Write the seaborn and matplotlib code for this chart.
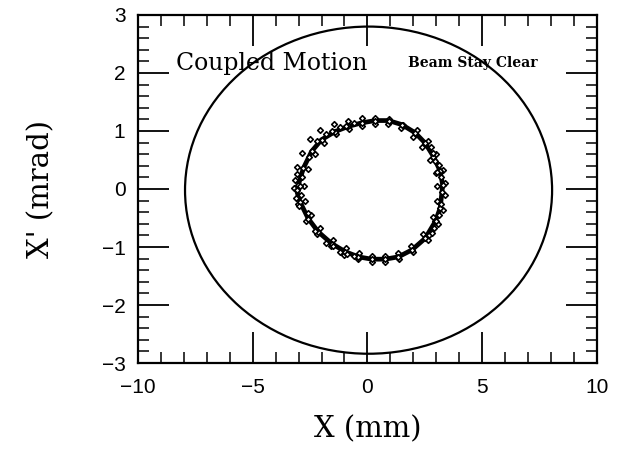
import numpy as np
import pandas as pd
import seaborn as sns
import matplotlib
matplotlib.use("Agg")
import matplotlib.pyplot as plt
from matplotlib.patches import Ellipse
from matplotlib.ticker import MultipleLocator

# ---------------- data ----------------
# particle trajectory (mid line of the band), X in mm, X' in mrad
ring_mid_x = [-3.09, -3.01, -2.79, -2.43, -2.00, -1.41, -0.83, -0.25, 0.34, 0.92, 1.50, 2.08,
              2.52, 2.88, 3.17, 3.28, 3.25, 3.17, 2.96, 2.52, 1.94, 1.35, 0.77, 0.19,
              -0.39, -0.97, -1.56, -2.14, -2.58, -2.94, -3.09]
ring_mid_y = [-0.02, 0.07, 0.36, 0.65, 0.85, 0.99, 1.08, 1.14, 1.18, 1.18, 1.11, 0.97,
              0.79, 0.56, 0.31, 0.07, -0.05, -0.33, -0.56, -0.85, -1.05, -1.17, -1.21, -1.21,
              -1.17, -1.08, -0.94, -0.74, -0.51, -0.22, -0.02]
# outer scatter of the band
ring_out_x = [-3.18, -3.05, -2.85, -2.50, -2.05, -1.45, -0.85, -0.25, 0.35, 0.95, 1.55, 2.15,
              2.62, 3.00, 3.30, 3.40, 3.38, 3.28, 3.08, 2.62, 2.00, 1.38, 0.78, 0.18,
              -0.40, -1.00, -1.60, -2.20, -2.66, -3.02]
ring_out_y = [0.02, 0.38, 0.62, 0.86, 1.02, 1.12, 1.18, 1.22, 1.23, 1.20, 1.10, 1.01,
              0.83, 0.60, 0.33, 0.10, -0.10, -0.36, -0.60, -0.88, -1.09, -1.21, -1.25, -1.25,
              -1.21, -1.13, -0.99, -0.78, -0.55, -0.25]
# inner scatter of the band
ring_in_x = [-2.75, -2.60, -2.30, -1.90, -1.35, -0.80, -0.25, 0.35, 0.90, 1.45, 2.00, 2.40,
             2.72, 2.98, 3.05, 3.02, 2.85, 2.42, 1.90, 1.33, 0.77, 0.20, -0.38, -0.95,
             -1.50, -2.05, -2.45, -2.72]
ring_in_y = [0.05, 0.35, 0.60, 0.80, 0.94, 1.03, 1.09, 1.12, 1.12, 1.05, 0.90, 0.72,
             0.50, 0.27, 0.05, -0.20, -0.48, -0.78, -0.98, -1.10, -1.15, -1.15, -1.11, -1.02,
             -0.88, -0.68, -0.45, -0.20]
# extra turns in the fuzzy parts of the band
fuzz_x = [-3.15, -3.12, -2.95, -2.90, -2.85, -3.05, -3.00,
          2.75, 2.95, 3.10, 3.20, 2.85, 3.05,
          3.20, 3.10, 2.90, 2.70, 3.00, 2.80,
          -2.20, -1.80, -1.20, -0.60, -1.55, -0.95, -2.55,
          -2.30, -1.80, -1.20, -0.60, -1.50, -0.90, -2.60]
fuzz_y = [0.15, -0.15, 0.05, -0.10, 0.20, 0.25, -0.30,
          0.72, 0.48, 0.42, 0.20, 0.62, 0.30,
          -0.25, -0.45, -0.68, -0.80, -0.55, -0.75,
          0.82, 0.95, 1.07, 1.13, 1.00, 1.09, 0.55,
          -0.72, -0.93, -1.08, -1.16, -0.98, -1.12, -0.42]

# beam stay clear ellipse: centre (mm, mrad) and full widths
bsc_center = [0.05, -0.02]
bsc_width = 16.0
bsc_height = 5.64

x_limits = [-10, 10]
y_limits = [-3, 3]
x_ticks = [-10, -5, 0, 5, 10]
y_ticks = [-3, -2, -1, 0, 1, 2, 3]

# ---------------- plotting ----------------
sns.set_theme(style="ticks")
plt.rcParams["font.family"] = ["DejaVu Serif"]
plt.rcParams["text.color"] = "black"
plt.rcParams["axes.labelcolor"] = "black"
plt.rcParams["xtick.color"] = "black"
plt.rcParams["ytick.color"] = "black"

fig = plt.figure(figsize=(6.23, 4.5), dpi=100)
ax = fig.add_axes([0.2215, 0.1933, 0.7365, 0.7734])

ax.add_patch(Ellipse(bsc_center, bsc_width, bsc_height, fill=False,
                     edgecolor="black", linewidth=1.6))

scatter_df = pd.DataFrame({
    "x": ring_out_x + ring_in_x + ring_mid_x + fuzz_x,
    "y": ring_out_y + ring_in_y + ring_mid_y + fuzz_y,
})
sns.lineplot(x=ring_mid_x, y=ring_mid_y, sort=False, color="black",
             linewidth=3.4, estimator=None, ax=ax)
sns.scatterplot(data=scatter_df, x="x", y="y", marker="D", s=8,
                facecolor="white", edgecolor="black", linewidth=1.2, ax=ax, zorder=3)

ax.text(-8.35, 2.17, "Coupled Motion", fontsize=17, va="center", ha="left",
        family="DejaVu Serif", color="black")
ax.text(1.79, 2.17, "Beam Stay Clear", fontsize=10, fontweight="bold",
        va="center", ha="left", family="DejaVu Serif", color="black")

ax.set_xlim(x_limits)
ax.set_ylim(y_limits)
ax.set_xticks(x_ticks)
ax.set_yticks(y_ticks)
ax.xaxis.set_minor_locator(MultipleLocator(1))
ax.yaxis.set_minor_locator(MultipleLocator(0.2))
ax.tick_params(which="both", direction="in", top=True, right=True, color="black")
ax.tick_params(which="major", length=22, width=1.3, labelsize=15)
ax.tick_params(which="minor", length=8, width=1.1)
ax.tick_params(axis="x", which="major", pad=11)
ax.tick_params(axis="y", which="major", pad=9)
for lab in ax.get_xticklabels() + ax.get_yticklabels():
    lab.set_family("Liberation Sans")

for s in ax.spines.values():
    s.set_linewidth(1.6)
    s.set_color("black")

ax.set_xlabel("X (mm)", fontsize=21, va="center", ha="center")
ax.set_ylabel("X' (mrad)", fontsize=21, va="center", ha="center")
ax.xaxis.set_label_coords(0.5, -0.19)
ax.yaxis.set_label_coords(-0.21, 0.5)

fig.savefig("out.png", dpi=100)
